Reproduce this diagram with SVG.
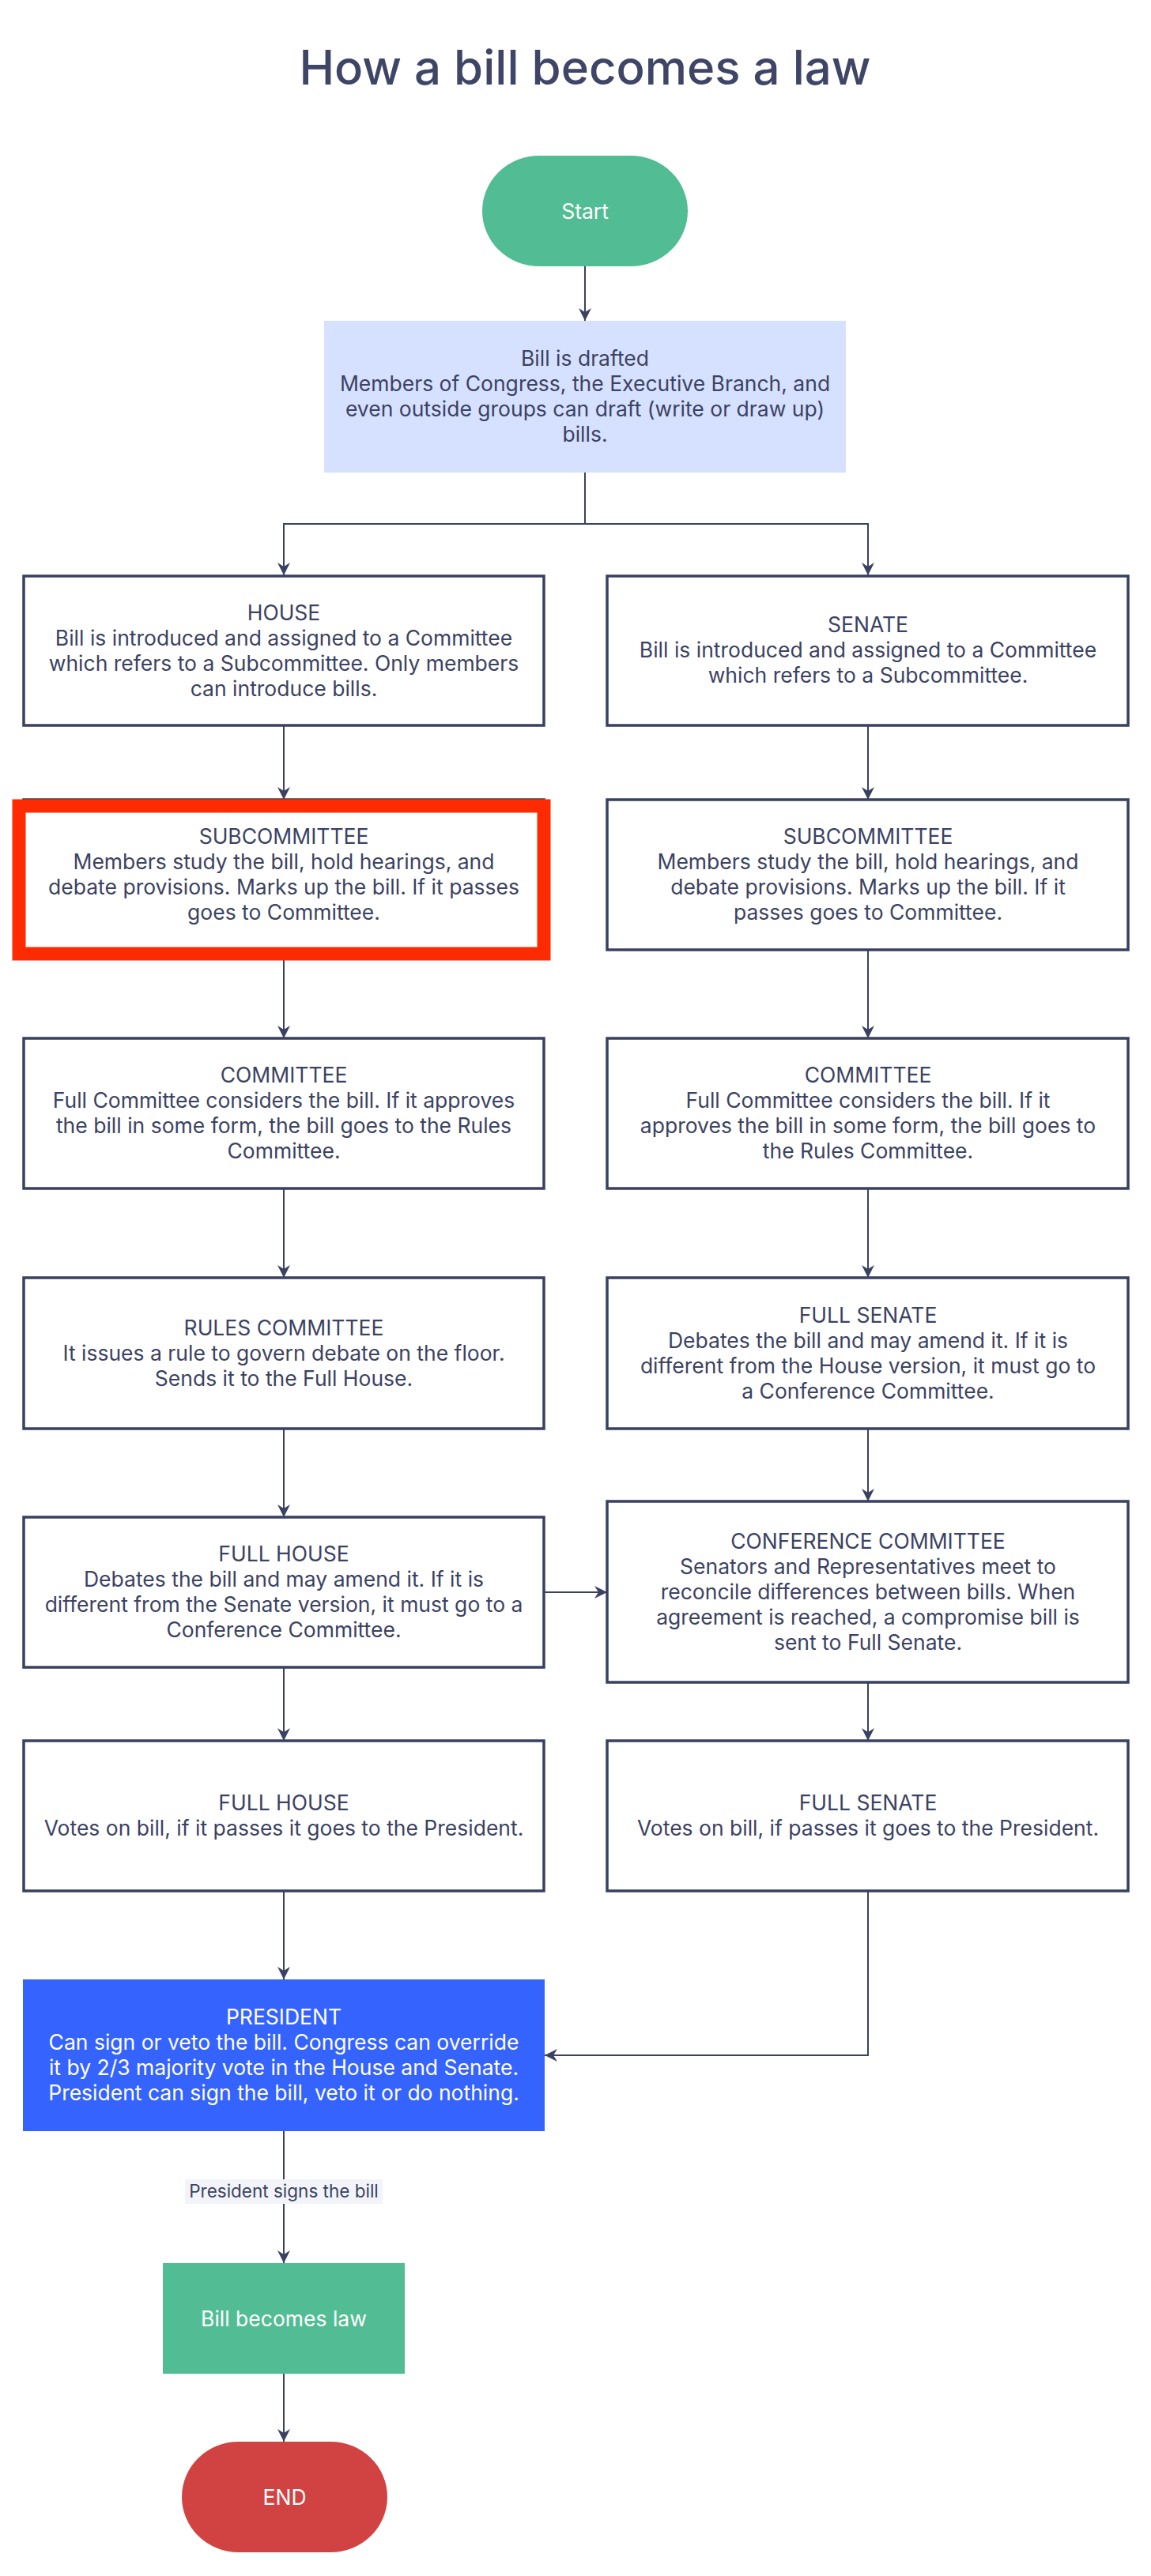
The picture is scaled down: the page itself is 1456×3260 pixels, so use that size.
<svg xmlns="http://www.w3.org/2000/svg" width="1456" height="3260" viewBox="0 0 1456 3260">
<defs>
<marker id="arr" viewBox="0 0 16 16" refX="16" refY="8" markerWidth="16" markerHeight="16" markerUnits="userSpaceOnUse" orient="auto">
<path d="M0,0 L16,8 L0,16 L5,8 Z" fill="#3a4161"/>
</marker>
<style>
text{font-family:Inter,"Noto Sans","Liberation Sans",sans-serif;}
.t{font-size:26.5px;fill:#3b4262;text-anchor:middle;}
.w{font-size:26.5px;fill:#ffffff;text-anchor:middle;}
.box{fill:#ffffff;stroke:#394060;stroke-width:3.5;}
.c{fill:none;stroke:#3a4161;stroke-width:2;marker-end:url(#arr);}
.cn{fill:none;stroke:#3a4161;stroke-width:2;}
</style>
</defs>
<rect width="1456" height="3260" fill="#ffffff"/>
<text x="740" y="107" text-anchor="middle" style="font-size:60px;font-weight:500;fill:#3f4566;">How a bill becomes a law</text>

<g id="connectors">
<path class="c" d="M740 337 V406"/>
<path class="cn" d="M740 598 V663"/>
<path class="c" d="M740 663 H359 V728"/>
<path class="c" d="M740 663 H1098 V728"/>
<path class="c" d="M359 918 V1012"/>
<path class="c" d="M1098 918 V1012"/>
<path class="c" d="M359 1202 V1314"/>
<path class="c" d="M1098 1202 V1314"/>
<path class="c" d="M359 1504 V1617"/>
<path class="c" d="M1098 1504 V1617"/>
<path class="c" d="M359 1808 V1920"/>
<path class="c" d="M1098 1808 V1900"/>
<path class="c" d="M688 2015 H768"/>
<path class="c" d="M359 2110 V2203"/>
<path class="c" d="M1098 2129 V2203"/>
<path class="c" d="M359 2393 V2505"/>
<path class="c" d="M1098 2393 V2601 H689"/>
<path class="c" d="M359 2697 V2864"/>
<path class="c" d="M359 3004 V3090"/>
<rect x="234" y="2758" width="250" height="31" fill="#f2f4f9"/>
<text x="359" y="2781" text-anchor="middle" style="font-size:22.5px;fill:#3b4262;">President signs the bill</text>
</g>

<g id="start">
<rect x="610" y="197" width="260" height="140" rx="72" ry="70" fill="#52bd94"/>
<text class="w" x="740" y="277">Start</text>
</g>

<g id="drafted">
<rect x="410" y="406" width="660" height="192" fill="#d6e0ff"/>
<text class="t" x="740" y="463"><tspan x="740">Bill is drafted</tspan><tspan x="740" dy="32">Members of Congress, the Executive Branch, and</tspan><tspan x="740" dy="32">even outside groups can draft (write or draw up)</tspan><tspan x="740" dy="32">bills.</tspan></text>
</g>

<g id="house">
<rect class="box" x="30" y="729" width="658" height="189"/>
<text class="t" x="359" y="785"><tspan x="359">HOUSE</tspan><tspan x="359" dy="32">Bill is introduced and assigned to a Committee</tspan><tspan x="359" dy="32">which refers to a Subcommittee. Only members</tspan><tspan x="359" dy="32">can introduce bills.</tspan></text>
</g>

<g id="senate">
<rect class="box" x="768" y="729" width="659" height="189"/>
<text class="t" x="1098" y="800"><tspan x="1098">SENATE</tspan><tspan x="1098" dy="32">Bill is introduced and assigned to a Committee</tspan><tspan x="1098" dy="32">which refers to a Subcommittee.</tspan></text>
</g>

<g id="house-subcommittee">
<rect class="box" x="30" y="1012" width="658" height="190"/>
<text class="t" x="359" y="1068"><tspan x="359">SUBCOMMITTEE</tspan><tspan x="359" dy="32">Members study the bill, hold hearings, and</tspan><tspan x="359" dy="32">debate provisions. Marks up the bill. If it passes</tspan><tspan x="359" dy="32">goes to Committee.</tspan></text>
</g>

<g id="highlight">
<rect x="24" y="1020" width="664" height="187" fill="none" stroke="#fd2a02" stroke-width="17"/>
</g>

<g id="senate-subcommittee">
<rect class="box" x="768" y="1012" width="659" height="190"/>
<text class="t" x="1098" y="1068"><tspan x="1098">SUBCOMMITTEE</tspan><tspan x="1098" dy="32">Members study the bill, hold hearings, and</tspan><tspan x="1098" dy="32">debate provisions. Marks up the bill. If it</tspan><tspan x="1098" dy="32">passes goes to Committee.</tspan></text>
</g>

<g id="house-committee">
<rect class="box" x="30" y="1314" width="658" height="190"/>
<text class="t" x="359" y="1370"><tspan x="359">COMMITTEE</tspan><tspan x="359" dy="32">Full Committee considers the bill. If it approves</tspan><tspan x="359" dy="32">the bill in some form, the bill goes to the Rules</tspan><tspan x="359" dy="32">Committee.</tspan></text>
</g>

<g id="senate-committee">
<rect class="box" x="768" y="1314" width="659" height="190"/>
<text class="t" x="1098" y="1370"><tspan x="1098">COMMITTEE</tspan><tspan x="1098" dy="32">Full Committee considers the bill. If it</tspan><tspan x="1098" dy="32">approves the bill in some form, the bill goes to</tspan><tspan x="1098" dy="32">the Rules Committee.</tspan></text>
</g>

<g id="rules-committee">
<rect class="box" x="30" y="1617" width="658" height="191"/>
<text class="t" x="359" y="1690"><tspan x="359">RULES COMMITTEE</tspan><tspan x="359" dy="32">It issues a rule to govern debate on the floor.</tspan><tspan x="359" dy="32">Sends it to the Full House.</tspan></text>
</g>

<g id="full-senate">
<rect class="box" x="768" y="1617" width="659" height="191"/>
<text class="t" x="1098" y="1674"><tspan x="1098">FULL SENATE</tspan><tspan x="1098" dy="32">Debates the bill and may amend it. If it is</tspan><tspan x="1098" dy="32">different from the House version, it must go to</tspan><tspan x="1098" dy="32">a Conference Committee.</tspan></text>
</g>

<g id="full-house">
<rect class="box" x="30" y="1920" width="658" height="190"/>
<text class="t" x="359" y="1976"><tspan x="359">FULL HOUSE</tspan><tspan x="359" dy="32">Debates the bill and may amend it. If it is</tspan><tspan x="359" dy="32">different from the Senate version, it must go to a</tspan><tspan x="359" dy="32">Conference Committee.</tspan></text>
</g>

<g id="conference-committee">
<rect class="box" x="768" y="1900" width="659" height="229"/>
<text class="t" x="1098" y="1960"><tspan x="1098">CONFERENCE COMMITTEE</tspan><tspan x="1098" dy="32">Senators and Representatives meet to</tspan><tspan x="1098" dy="32">reconcile differences between bills. When</tspan><tspan x="1098" dy="32">agreement is reached, a compromise bill is</tspan><tspan x="1098" dy="32">sent to Full Senate.</tspan></text>
</g>

<g id="full-house-vote">
<rect class="box" x="30" y="2203" width="658" height="190"/>
<text class="t" x="359" y="2291"><tspan x="359">FULL HOUSE</tspan><tspan x="359" dy="32">Votes on bill, if it passes it goes to the President.</tspan></text>
</g>

<g id="full-senate-vote">
<rect class="box" x="768" y="2203" width="659" height="190"/>
<text class="t" x="1098" y="2291"><tspan x="1098">FULL SENATE</tspan><tspan x="1098" dy="32">Votes on bill, if passes it goes to the President.</tspan></text>
</g>

<g id="president">
<rect x="29" y="2505" width="660" height="192" fill="#3563fe"/>
<text class="w" x="359" y="2562"><tspan x="359">PRESIDENT</tspan><tspan x="359" dy="32">Can sign or veto the bill. Congress can override</tspan><tspan x="359" dy="32">it by 2/3 majority vote in the House and Senate.</tspan><tspan x="359" dy="32">President can sign the bill, veto it or do nothing.</tspan></text>
</g>

<g id="bill-becomes-law">
<rect x="206" y="2864" width="306" height="140" fill="#52bd94"/>
<text class="w" x="359" y="2944">Bill becomes law</text>
</g>

<g id="end">
<rect x="230" y="3090" width="260" height="140" rx="72" ry="70" fill="#d14343"/>
<text class="w" x="360" y="3170">END</text>
</g>
</svg>
